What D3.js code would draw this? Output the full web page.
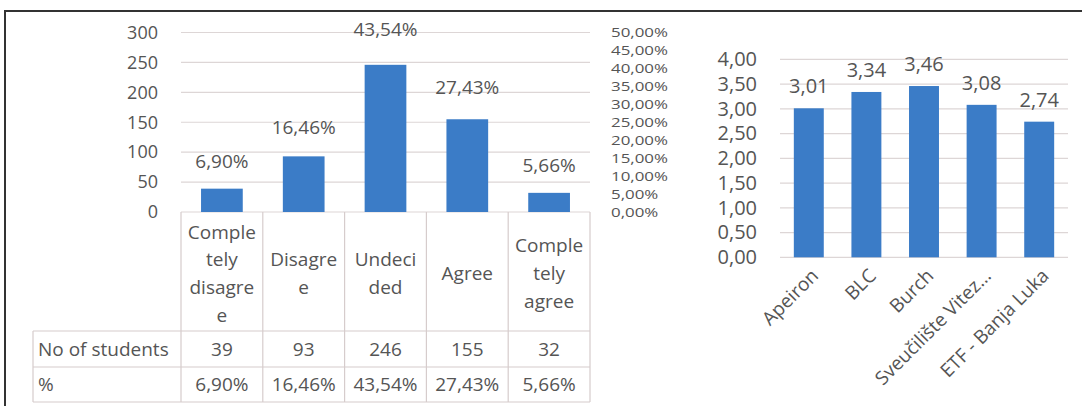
<!DOCTYPE html>
<html>
<head>
<meta charset="utf-8">
<script src="https://cdn.jsdelivr.net/npm/d3@7"></script>
<style>
  html, body { margin: 0; padding: 0; background: #fff; }
  svg { display: block; }
  text { font-family: "Open Sans", "DejaVu Sans", sans-serif; fill: #555; }
</style>
</head>
<body>
<svg id="chart" width="1087" height="406"></svg>
<script>
// ---------- data ----------
const categories = ["Completely disagree", "Disagree", "Undecided", "Agree", "Completely agree"];
const categoryLines = [["Comple", "tely", "disagre", "e"], ["Disagre", "e"], ["Undeci", "ded"], ["Agree"], ["Comple", "tely", "agree"]];
const students = [39, 93, 246, 155, 32];
const percents = [6.90, 16.46, 43.54, 27.43, 5.66];
const countTicks = [0, 50, 100, 150, 200, 250, 300];
const percentTicks = [0, 5, 10, 15, 20, 25, 30, 35, 40, 45, 50];
const rowLabels = ["No of students", "%"];

const schools = ["Apeiron", "BLC", "Burch", "Sveučilište Vitez…", "ETF - Banja Luka"];
const schoolScores = [3.01, 3.34, 3.46, 3.08, 2.74];
const scoreTicks = [0, 0.5, 1, 1.5, 2, 2.5, 3, 3.5, 4];

// ---------- helpers ----------
const comma = (v, d) => v.toFixed(d).replace(".", ",");
const BAR = "#3b7cc7";
const GRID = "#ddd6d6";
const TABLE = "#d6cccc";

const svg = d3.select("#chart");

// frame
svg.append("line").attr("x1", 5).attr("x2", 1082).attr("y1", 11).attr("y2", 11)
  .attr("stroke", "#333").attr("stroke-width", 2);
svg.append("line").attr("x1", 5).attr("x2", 5).attr("y1", 10).attr("y2", 406)
  .attr("stroke", "#333").attr("stroke-width", 2);

// ---------- left chart ----------
const x1 = d3.scaleBand().domain(categories).range([181, 590]).paddingInner(0.49).paddingOuter(0.245);
const y1 = d3.scaleLinear().domain([0, 300]).range([212, 32.5]);
const y2 = d3.scaleLinear().domain([0, 50]).range([212, 32.5]);

const L = svg.append("g");
L.selectAll("line.grid").data(countTicks).join("line")
  .attr("x1", 181).attr("x2", 590)
  .attr("y1", d => y1(d)).attr("y2", d => y1(d))
  .attr("stroke", GRID).attr("stroke-width", 1.2);

const axL = d3.axisLeft(y1).tickValues(countTicks).tickSize(0).tickPadding(0).tickFormat(d => d);
const gL = L.append("g").attr("transform", "translate(158,0)").call(axL);
gL.select(".domain").remove();
gL.selectAll("text").attr("font-size", 18).style("font-family", "'Open Sans'").attr("fill", "#555");

const axR = d3.axisRight(y2).tickValues(percentTicks).tickSize(0).tickPadding(0).tickFormat(d => comma(d, 2) + "%");
const gR = L.append("g").attr("transform", "translate(611,0) scale(1.3,1)").call(axR);
gR.select(".domain").remove();
gR.selectAll("text").attr("font-size", 13).style("font-family", "'Open Sans'").attr("fill", "#555");

L.selectAll("rect.bar").data(categories).join("rect")
  .attr("x", d => x1(d)).attr("width", x1.bandwidth())
  .attr("y", (d, i) => y1(students[i])).attr("height", (d, i) => y1(0) - y1(students[i]))
  .attr("fill", BAR);

L.selectAll("text.pl").data(categories).join("text")
  .attr("x", d => x1(d) + x1.bandwidth() / 2)
  .attr("y", (d, i) => y2(percents[i]) - 26)
  .attr("dy", "0.35em").attr("text-anchor", "middle").attr("font-size", 19)
  .text((d, i) => comma(percents[i], 2) + "%");

// data table
const colEdges = categories.map(d => x1(d) - x1.step() * x1.paddingInner() / 2);
colEdges.push(590);
const tTop = 212, tRow1 = 331, tRow2 = 367, tBot = 402, tLeft = 33;
colEdges.forEach(x => {
  L.append("line").attr("x1", x).attr("x2", x).attr("y1", tTop).attr("y2", tBot).attr("stroke", TABLE).attr("stroke-width", 1.2);
});
L.append("line").attr("x1", tLeft).attr("x2", tLeft).attr("y1", tRow1).attr("y2", tBot).attr("stroke", TABLE).attr("stroke-width", 1.2);
[tRow1, tRow2, tBot].forEach(y => {
  L.append("line").attr("x1", tLeft).attr("x2", 590).attr("y1", y).attr("y2", y).attr("stroke", TABLE).attr("stroke-width", 1.2);
});

categories.forEach((c, i) => {
  const lines = categoryLines[i];
  const lh = 27.7;
  const cy = (tTop + tRow1) / 2 + 2;
  const t = L.append("text").attr("text-anchor", "middle").attr("font-size", 19)
    .attr("x", x1(c) + x1.bandwidth() / 2);
  lines.forEach((ln, k) => {
    t.append("tspan").attr("x", x1(c) + x1.bandwidth() / 2)
      .attr("y", cy + (k - (lines.length - 1) / 2) * lh).attr("dy", "0.35em").text(ln);
  });
  L.append("text").attr("text-anchor", "middle").attr("font-size", 19)
    .attr("x", x1(c) + x1.bandwidth() / 2).attr("y", (tRow1 + tRow2) / 2).attr("dy", "0.35em").text(students[i]);
  L.append("text").attr("text-anchor", "middle").attr("font-size", 19)
    .attr("x", x1(c) + x1.bandwidth() / 2).attr("y", (tRow2 + tBot) / 2).attr("dy", "0.35em").text(comma(percents[i], 2) + "%");
});
rowLabels.forEach((r, k) => {
  L.append("text").attr("font-size", 19).attr("x", 38)
    .attr("y", k === 0 ? (tRow1 + tRow2) / 2 : (tRow2 + tBot) / 2).attr("dy", "0.35em").text(r);
});

// ---------- right chart ----------
const xs = d3.scaleBand().domain(schools).range([780, 1068]).paddingInner(0.48).paddingOuter(0.24);
const ys = d3.scaleLinear().domain([0, 4]).range([257.3, 59.3]);
const R = svg.append("g");

R.selectAll("line.grid").data(scoreTicks).join("line")
  .attr("x1", 780).attr("x2", 1068)
  .attr("y1", d => ys(d)).attr("y2", d => ys(d))
  .attr("stroke", GRID).attr("stroke-width", 1.2);

const axS = d3.axisLeft(ys).tickValues(scoreTicks).tickSize(0).tickPadding(0).tickFormat(d => comma(d, 2));
const gS = R.append("g").attr("transform", "translate(757,0)").call(axS);
gS.select(".domain").remove();
gS.selectAll("text").attr("font-size", 20).style("font-family", "'Open Sans'").attr("fill", "#555");

R.selectAll("rect.bar").data(schools).join("rect")
  .attr("x", d => xs(d)).attr("width", xs.bandwidth())
  .attr("y", (d, i) => ys(schoolScores[i])).attr("height", (d, i) => ys(0) - ys(schoolScores[i]))
  .attr("fill", BAR);

R.selectAll("text.vl").data(schools).join("text")
  .attr("x", d => xs(d) + xs.bandwidth() / 2)
  .attr("y", (d, i) => ys(schoolScores[i]) - 22)
  .attr("dy", "0.35em").attr("text-anchor", "middle").attr("font-size", 20)
  .text((d, i) => comma(schoolScores[i], 2));

R.selectAll("text.cat").data(schools).join("text")
  .attr("text-anchor", "end").attr("font-size", 19)
  .attr("transform", d => `translate(${xs(d) + xs.bandwidth() / 2 + 6},${ys(0) + 15}) rotate(-45)`)
  .attr("dy", "0.35em")
  .text(d => d);
</script>
</body>
</html>
